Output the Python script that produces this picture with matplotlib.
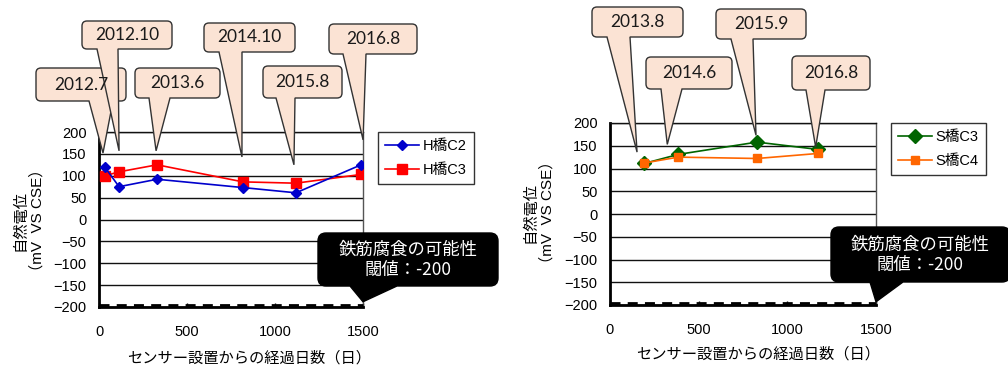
import matplotlib
matplotlib.use("Agg")
import matplotlib.pyplot as plt
import matplotlib.transforms as mtransforms
from matplotlib.path import Path
from matplotlib.patches import PathPatch

plt.rcParams["font.family"] = ["Liberation Sans", "Noto Sans CJK JP", "DejaVu Sans"]

# --- data: H bridge ---
h_days = [34, 114, 330, 818, 1119, 1489]
h_dates = ["2012.7", "2012.10", "2013.6", "2014.10", "2015.8", "2016.8"]
h_c2 = [119, 75, 92, 73, 61, 125]
h_c3 = [100, 109, 125, 86, 83, 103]

# --- data: S bridge ---
s_days = [192, 385, 829, 1171]
s_dates = ["2013.8", "2014.6", "2015.9", "2016.8"]
s_c3 = [111, 131, 158, 142]
s_c4 = [112, 125, 122, 133]

threshold = -200
x_ticks = [0, 500, 1000, 1500]
y_ticks = [-200, -150, -100, -50, 0, 50, 100, 150, 200]

XLABEL = "センサー設置からの経過日数（日）"
YLABEL = "自然電位\n（mV  VS CSE）"
WARN_TEXT = "鉄筋腐食の可能性\n閾値：-200"

W, H = 1008, 368

# callout layout in pixels (top-based): box (x0, x1, y0, y1), pointer base (l, r),
# tip value (mV) and small x nudge of the tip
h_layout = [
    ((36, 126, 68, 101), (89, 113), 152, -2),
    ((82, 172, 21, 49), (97, 118), 157, 0),
    ((135, 220, 68, 98), (149, 170), 157, -1),
    ((204, 295, 23, 52), (219, 242), 143, -1),
    ((263, 342, 66, 98), (276, 295), 125, -2),
    ((329, 417, 24, 54), (343, 366), 182, 2),
]
s_layout = [
    ((592, 683, 7, 37), (607, 630), 136, -7),
    ((646, 732, 57, 89), (661, 682), 153, -11),
    ((716, 806, 9, 39), (731, 753), 173, -1),
    ((792, 870, 56, 90), (806, 825), 147, -2),
]

fig = plt.figure(figsize=(W / 100, H / 100), dpi=100)
px = mtransforms.Affine2D().scale(1 / W, -1 / H).translate(0, 1) + fig.transFigure


def setup_axes(ax, ylabel_xy):
    ax.set_xlim(0, 1500)
    ax.set_ylim(-200, 200)
    ax.set_xticks(x_ticks)
    ax.set_yticks(y_ticks)
    ax.yaxis.grid(True, color="#111111", lw=1.0)
    ax.set_axisbelow(True)
    ax.tick_params(axis="x", direction="in", length=3, width=1, pad=13, labelsize=10.5)
    ax.tick_params(axis="y", length=0, pad=9, labelsize=10.5)
    for side in ("left", "bottom"):
        ax.spines[side].set_linewidth(2.0)
        ax.spines[side].set_color("black")
    ax.spines["top"].set_linewidth(1.0)
    ax.spines["top"].set_color("#111111")
    ax.spines["right"].set_linewidth(1.0)
    ax.spines["right"].set_color("#555555")
    # threshold line sits just above the bottom spine
    lift = mtransforms.ScaledTranslation(0, 2.0 / 100, fig.dpi_scale_trans)
    ax.plot([0, 1], [threshold, threshold], color="black", lw=2.0, ls=(0, (3.6, 2.6)),
            zorder=3, clip_on=False, transform=ax.get_yaxis_transform() + lift)
    ax.text(ylabel_xy[0], ylabel_xy[1], YLABEL, transform=ax.transAxes, rotation=90,
            ha="center", va="center", fontsize=11, linespacing=1.2)


def callout_path(box, base, tip, r):
    x0, x1, y0, y1 = box
    bl, br = base
    verts = [
        (bl, y1), tip, (br, y1),
        (x1 - r, y1), (x1, y1), (x1, y1 - r),
        (x1, y0 + r), (x1, y0), (x1 - r, y0),
        (x0 + r, y0), (x0, y0), (x0, y0 + r),
        (x0, y1 - r), (x0, y1), (x0 + r, y1),
        (bl, y1),
    ]
    codes = [Path.MOVETO, Path.LINETO, Path.LINETO,
             Path.LINETO, Path.CURVE3, Path.CURVE3,
             Path.LINETO, Path.CURVE3, Path.CURVE3,
             Path.LINETO, Path.CURVE3, Path.CURVE3,
             Path.LINETO, Path.CURVE3, Path.CURVE3,
             Path.CLOSEPOLY]
    return Path(verts, codes)


def tip_px(ax, day, val, dx=0):
    disp = ax.transData.transform((day, val))
    x, y = px.inverted().transform(disp)
    return (x + dx, y)


def callout(ax, box, base, tip, text, fc, ec, tc, r, fontsize, family, lw=1.0):
    patch = PathPatch(callout_path(box, base, tip, r), facecolor=fc, edgecolor=ec,
                      lw=lw, transform=px, zorder=10)
    fig.add_artist(patch)
    cx = (box[0] + box[1]) / 2
    cy = (box[2] + box[3]) / 2
    fig.text(cx, cy, text, transform=px, ha="center", va="center", color=tc,
             fontsize=fontsize, family=family, zorder=11, linespacing=1.15)


# --- left: H bridge ---
ax1 = fig.add_axes([99 / W, 1 - 307 / H, 264 / W, 175 / H])
setup_axes(ax1, (-0.265, 0.497))
ax1.plot(h_days, h_c2, color="#0000CC", lw=1.2, marker="D", ms=5.5, label="H橋C2", zorder=5)
ax1.plot(h_days, h_c3, color="#FF0000", lw=1.2, marker="s", ms=7, label="H橋C3", zorder=4)
ax1.set_xlabel(XLABEL, fontsize=11)
ax1.xaxis.set_label_coords(0.568, -0.25)
leg1 = ax1.legend(loc="upper left", bbox_to_anchor=(1.057, 1.0), borderaxespad=0,
                  fancybox=False, framealpha=1, edgecolor="#333333", fontsize=10.5,
                  handlelength=2.3, handletextpad=0.25, labelspacing=0.65, borderpad=0.5)
leg1.get_frame().set_linewidth(1.0)

# --- right: S bridge ---
ax2 = fig.add_axes([610 / W, 1 - 305 / H, 266 / W, 182 / H])
setup_axes(ax2, (-0.267, 0.51))
ax2.plot(s_days, s_c3, color="#006400", lw=1.2, marker="D", ms=7, label="S橋C3", zorder=4)
ax2.plot(s_days, s_c4, color="#FF6600", lw=1.2, marker="s", ms=6, label="S橋C4", zorder=5)
ax2.set_xlabel(XLABEL, fontsize=11)
ax2.xaxis.set_label_coords(0.556, -0.23)
leg2 = ax2.legend(loc="upper left", bbox_to_anchor=(1.056, 1.0), borderaxespad=0,
                  fancybox=False, framealpha=1, edgecolor="#333333", fontsize=10.5,
                  handlelength=2.3, handletextpad=0.25, labelspacing=0.65, borderpad=0.5)
leg2.get_frame().set_linewidth(1.0)

# --- date callouts ---
date_font = ["Lato", "DejaVu Sans"]
for day, label, (box, base, tval, dx) in zip(h_days, h_dates, h_layout):
    callout(ax1, box, base, tip_px(ax1, day, tval, dx), label,
            "#FBE3D4", "#333333", "#1a1a1a", 5, 12.5, date_font)
for day, label, (box, base, tval, dx) in zip(s_days, s_dates, s_layout):
    callout(ax2, box, base, tip_px(ax2, day, tval, dx), label,
            "#FBE3D4", "#333333", "#1a1a1a", 5, 12.5, date_font)

# --- threshold callouts ---
warn_font = ["Noto Sans CJK JP", "DejaVu Sans"]
callout(ax1, (318, 498, 233, 286), (350, 397), tip_px(ax1, 1500, threshold + 12),
        WARN_TEXT, "black", "black", "white", 8, 12.5, warn_font)
callout(ax2, (831, 1010, 227, 282), (870, 903), tip_px(ax2, 1500, threshold + 7),
        WARN_TEXT, "black", "black", "white", 8, 12.5, warn_font)

fig.savefig("out.png", dpi=100)
